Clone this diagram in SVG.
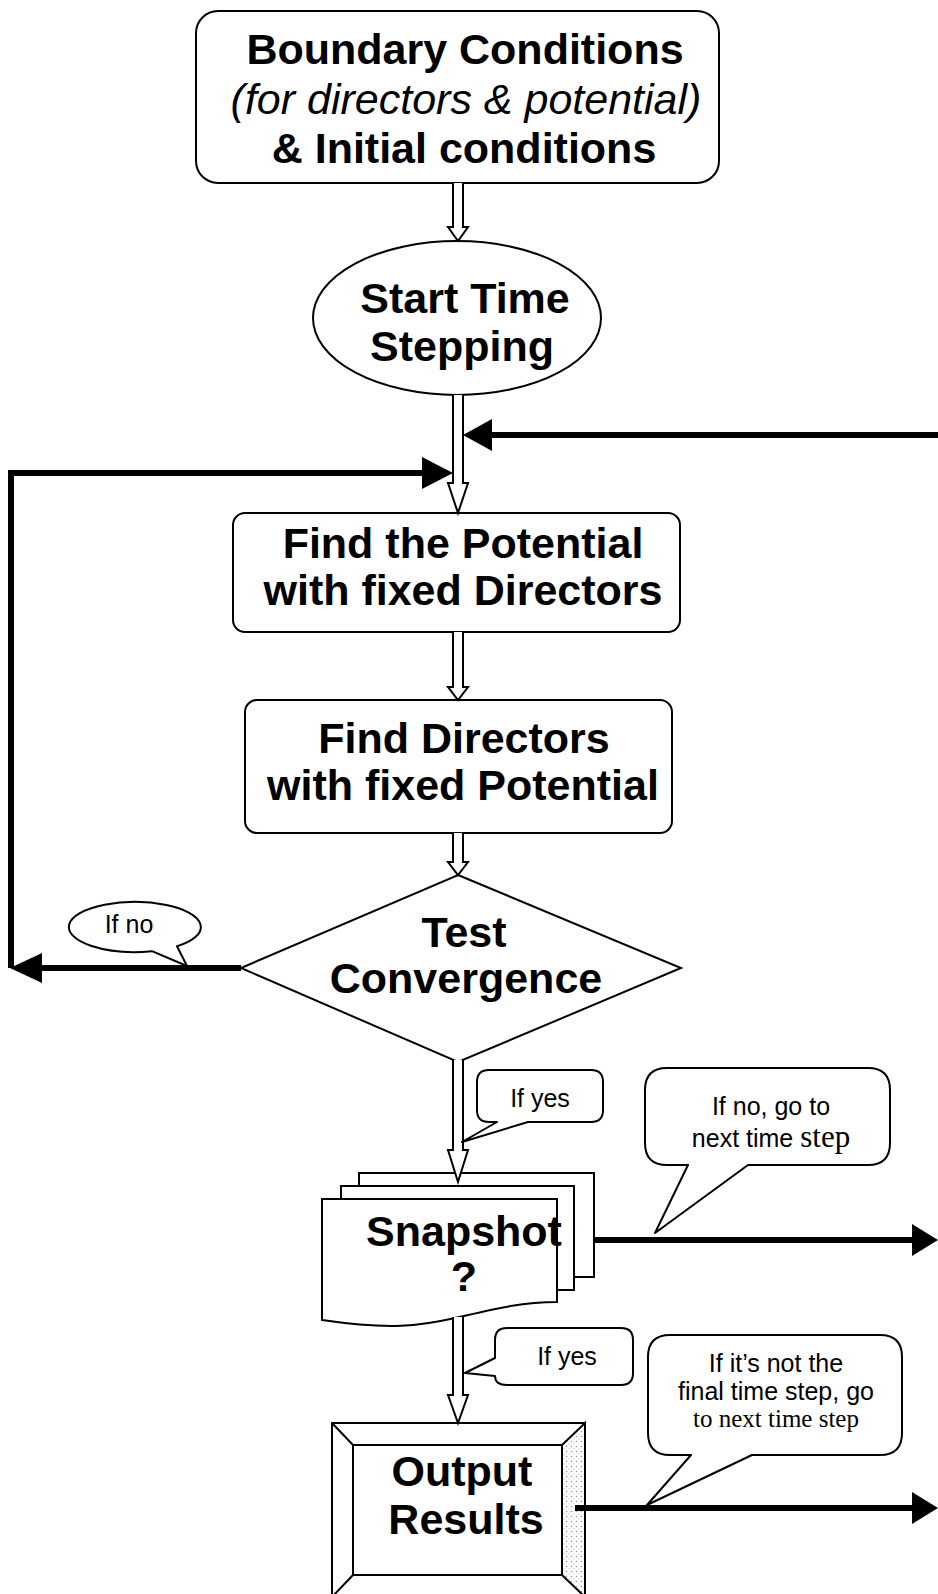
<svg xmlns="http://www.w3.org/2000/svg" width="938" height="1594" viewBox="0 0 938 1594">
<style>
.node{fill:#fff;stroke:#000;stroke-width:2}
.t{font-family:"Liberation Sans",Arial,Helvetica,sans-serif;font-weight:bold;font-size:43px;text-anchor:middle;fill:#000}
.ti{font-weight:normal;font-style:italic}
.c{font-family:"Liberation Sans",Arial,Helvetica,sans-serif;font-size:25px;text-anchor:middle;fill:#000}
.serif{font-family:"Liberation Serif","Times New Roman",serif}
.hollow{fill:#fff;stroke:#000;stroke-width:2;stroke-linejoin:miter}
.thick{stroke:#000;stroke-width:6;fill:none}
.head{fill:#000;stroke:none}
.callout{fill:#fff;stroke:#000;stroke-width:2;stroke-linejoin:round}
</style>
<defs>
<pattern id="dots" width="5" height="5" patternUnits="userSpaceOnUse">
<rect width="5" height="5" fill="#fff"/>
<circle cx="1.5" cy="1.5" r="0.8" fill="#999"/>
<circle cx="4" cy="3.8" r="0.6" fill="#bbb"/>
</pattern>
</defs>
<rect width="938" height="1594" fill="#fff"/>

<g id="boundary">
<rect class="node" x="196" y="11" width="523" height="172" rx="22"/>
<text class="t" x="465" y="64">Boundary Conditions</text>
<text class="t ti" x="466" y="114">(for directors &amp; potential)</text>
<text class="t" x="464" y="163">&amp; Initial conditions</text>
</g>

<g id="start">
<ellipse class="node" cx="457" cy="318" rx="144" ry="77"/>
<text class="t" x="465" y="313">Start Time</text>
<text class="t" x="462" y="361">Stepping</text>
</g>

<g id="potential">
<rect class="node" x="233" y="513" width="447" height="119" rx="12"/>
<text class="t" x="463" y="558">Find the Potential</text>
<text class="t" x="463" y="605">with fixed Directors</text>
</g>

<g id="directors">
<rect class="node" x="245" y="700" width="427" height="133" rx="12"/>
<text class="t" x="464" y="753">Find Directors</text>
<text class="t" x="463" y="800">with fixed Potential</text>
</g>

<g id="convergence">
<polygon class="node" points="458,875 681,968 458,1062 241,968"/>
<text class="t" x="464" y="947">Test</text>
<text class="t" x="466" y="993">Convergence</text>
</g>

<g id="snapshot">
<rect class="node" x="359" y="1173" width="235" height="104"/>
<rect class="node" x="341" y="1186" width="233" height="104"/>
<path class="node" d="M322,1199 H557 V1302 C520,1302 490,1310 455,1318 C420,1326 390,1330 322,1320 Z"/>
<text class="t" x="464" y="1246">Snapshot</text>
<text class="t" x="464" y="1291">?</text>
</g>

<g id="output">
<rect class="node" x="332" y="1423" width="253" height="174"/>
<polygon points="562,1445 585,1423 585,1597 562,1575" fill="url(#dots)" stroke="#000" stroke-width="2"/>
<path d="M332,1423 L353,1445 M332,1597 L353,1575" stroke="#000" stroke-width="2" fill="none"/>
<rect class="node" x="353" y="1445" width="209" height="130"/>
<text class="t" x="462" y="1486">Output</text>
<text class="t" x="466" y="1534">Results</text>
</g>

<g id="connectors">
<path class="hollow" d="M453,183 V227 H448 L458,241 L468,227 H463 V183"/>
<path class="hollow" d="M453,395 V483 H448 L458,513 L468,483 H463 V395"/>
<path class="hollow" d="M453,632 V687 H448 L458,700 L468,687 H463 V632"/>
<path class="hollow" d="M453,833 V862 H448 L458,875 L468,862 H463 V833"/>
<path class="hollow" d="M453,1060 V1150 H448 L458,1182 L468,1150 H463 V1060"/>
<path class="hollow" d="M453,1317 V1395 H448 L458,1423 L468,1395 H463 V1317"/>

<path class="thick" d="M938,435 H488"/>
<polygon class="head" points="463,435 492,419 492,451"/>

<path class="thick" d="M241,968 H38"/>
<polygon class="head" points="10,968 42,953 42,983"/>
<path class="thick" d="M11,968 V473 H425"/>
<polygon class="head" points="453,473 422,457 422,489"/>

<path class="thick" d="M594,1240 H916"/>
<polygon class="head" points="938,1240 912,1224 912,1256"/>

<path class="thick" d="M575,1508 H916"/>
<polygon class="head" points="938,1508 912,1492 912,1524"/>
</g>

<g id="callout-ifno">
<path class="callout" d="M152,951.2 A66,25 0 1 1 177,946.3 L187,966 Z"/>
<text class="c" x="129" y="933">If no</text>
</g>

<g id="callout-ifyes1">
<path class="callout" d="M489,1070 H591 Q603,1070 603,1082 V1110 Q603,1122 591,1122 H528 L462,1142 L497,1122 H489 Q477,1122 477,1110 V1082 Q477,1070 489,1070 Z"/>
<text class="c" x="540" y="1107">If yes</text>
</g>

<g id="callout-next1">
<path class="callout" d="M667,1068 H868 Q890,1068 890,1090 V1143 Q890,1165 868,1165 H748 L655,1233 L688,1165 H667 Q645,1165 645,1143 V1090 Q645,1068 667,1068 Z"/>
<text class="c" x="771" y="1115" font-size="27">If no, go to</text>
<text class="c" x="771" y="1147" font-size="27">next time <tspan class="serif" font-size="31">step</tspan></text>
</g>

<g id="callout-ifyes2">
<path class="callout" d="M507,1328 H621 Q633,1328 633,1340 V1373 Q633,1385 621,1385 H507 Q495,1385 495,1376 L465,1373 L495,1358 V1340 Q495,1328 507,1328 Z"/>
<text class="c" x="567" y="1365">If yes</text>
</g>

<g id="callout-next2">
<path class="callout" d="M670,1335 H880 Q902,1335 902,1357 V1433 Q902,1455 880,1455 H752 L647,1505 L691,1455 H670 Q648,1455 648,1433 V1357 Q648,1335 670,1335 Z"/>
<text class="c" x="776" y="1372" font-size="24">If it’s not the</text>
<text class="c" x="776" y="1400" font-size="24">final time step, go</text>
<text class="c serif" x="776" y="1427" font-size="25">to next time step</text>
</g>
</svg>
